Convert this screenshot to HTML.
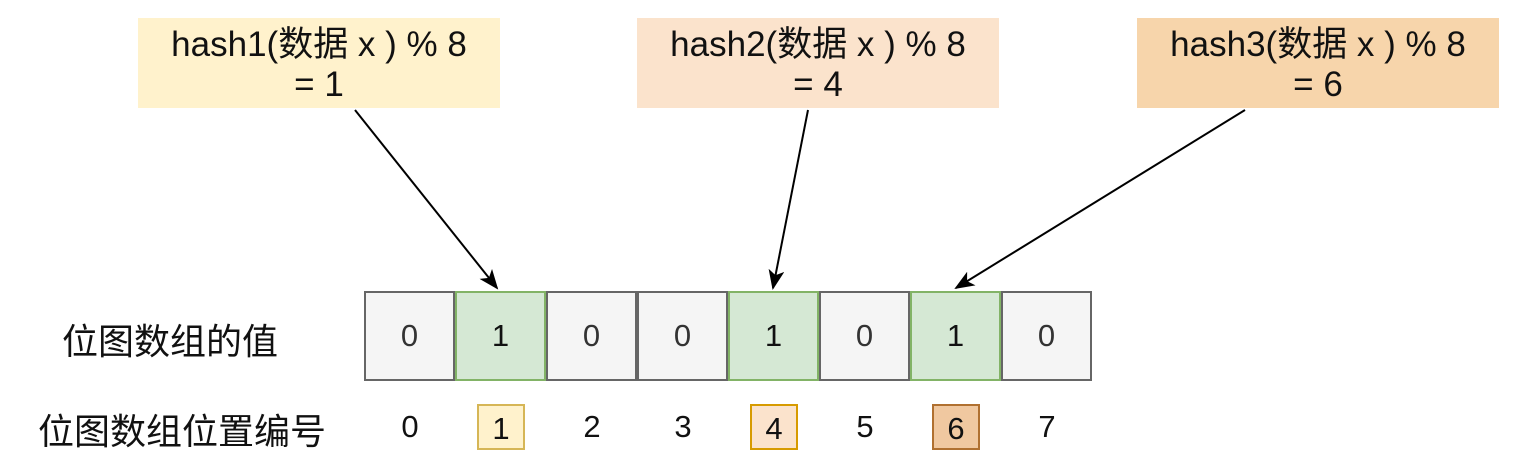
<!DOCTYPE html>
<html><head><meta charset="utf-8"><style>
body{margin:0;width:1518px;height:464px;background:#fff;position:relative;overflow:hidden;font-family:"Liberation Sans","Noto Sans CJK SC",sans-serif;color:#111}
.b{position:absolute;top:18px;height:90px;width:362px;text-align:center;font-size:35px;line-height:40px;padding-top:7px;box-sizing:border-box;white-space:nowrap}
.c{position:absolute;top:291px;height:90px;width:91px;box-sizing:border-box;border:2px solid #666;background:#f5f5f5;text-align:center;line-height:86px;font-size:31px;color:#333}
.g{background:#d5e8d4;border-color:#82b366;color:#111}
.n{position:absolute;top:404px;width:48px;height:46px;text-align:center;line-height:46px;font-size:31px;box-sizing:border-box}
.l{position:absolute;font-size:36px}
</style></head><body>
<div class="b" style="left:138px;background:#fff2cc">hash1(数据 x ) % 8<br>= 1</div>
<div class="b" style="left:637px;background:#fbe3cc">hash2(数据 x ) % 8<br>= 4</div>
<div class="b" style="left:1137px;background:#f7d5ab">hash3(数据 x ) % 8<br>= 6</div>
<div class="c" style="left:364px">0</div>
<div class="c g" style="left:455px">1</div>
<div class="c" style="left:546px">0</div>
<div class="c" style="left:637px">0</div>
<div class="c g" style="left:728px">1</div>
<div class="c" style="left:819px">0</div>
<div class="c g" style="left:910px">1</div>
<div class="c" style="left:1001px">0</div>
<div class="l" style="left:62px;top:313px">位图数组的值</div>
<div class="l" style="left:38px;top:403px">位图数组位置编号</div>
<div class="n" style="left:386px">0</div>
<div class="n" style="left:477px;background:#fff2cc;border:2px solid #d6b656">1</div>
<div class="n" style="left:568px">2</div>
<div class="n" style="left:659px">3</div>
<div class="n" style="left:750px;background:#fbe3cc;border:2px solid #d79b00">4</div>
<div class="n" style="left:841px">5</div>
<div class="n" style="left:932px;background:#f0c8a0;border:2px solid #b07030">6</div>
<div class="n" style="left:1023px">7</div>
<svg width="1518" height="464" style="position:absolute;left:0;top:0">
<defs><marker id="a" markerWidth="20" markerHeight="16" refX="18" refY="8" orient="auto" markerUnits="userSpaceOnUse"><path d="M0,0L20,8L0,16L5,8z" fill="#000"/></marker></defs>
<g stroke="#000" stroke-width="2" fill="none">
<line x1="355" y1="110" x2="497" y2="288" marker-end="url(#a)"/>
<line x1="808" y1="110" x2="773" y2="288" marker-end="url(#a)"/>
<line x1="1245" y1="110" x2="956" y2="288" marker-end="url(#a)"/>
</g></svg>
</body></html>
